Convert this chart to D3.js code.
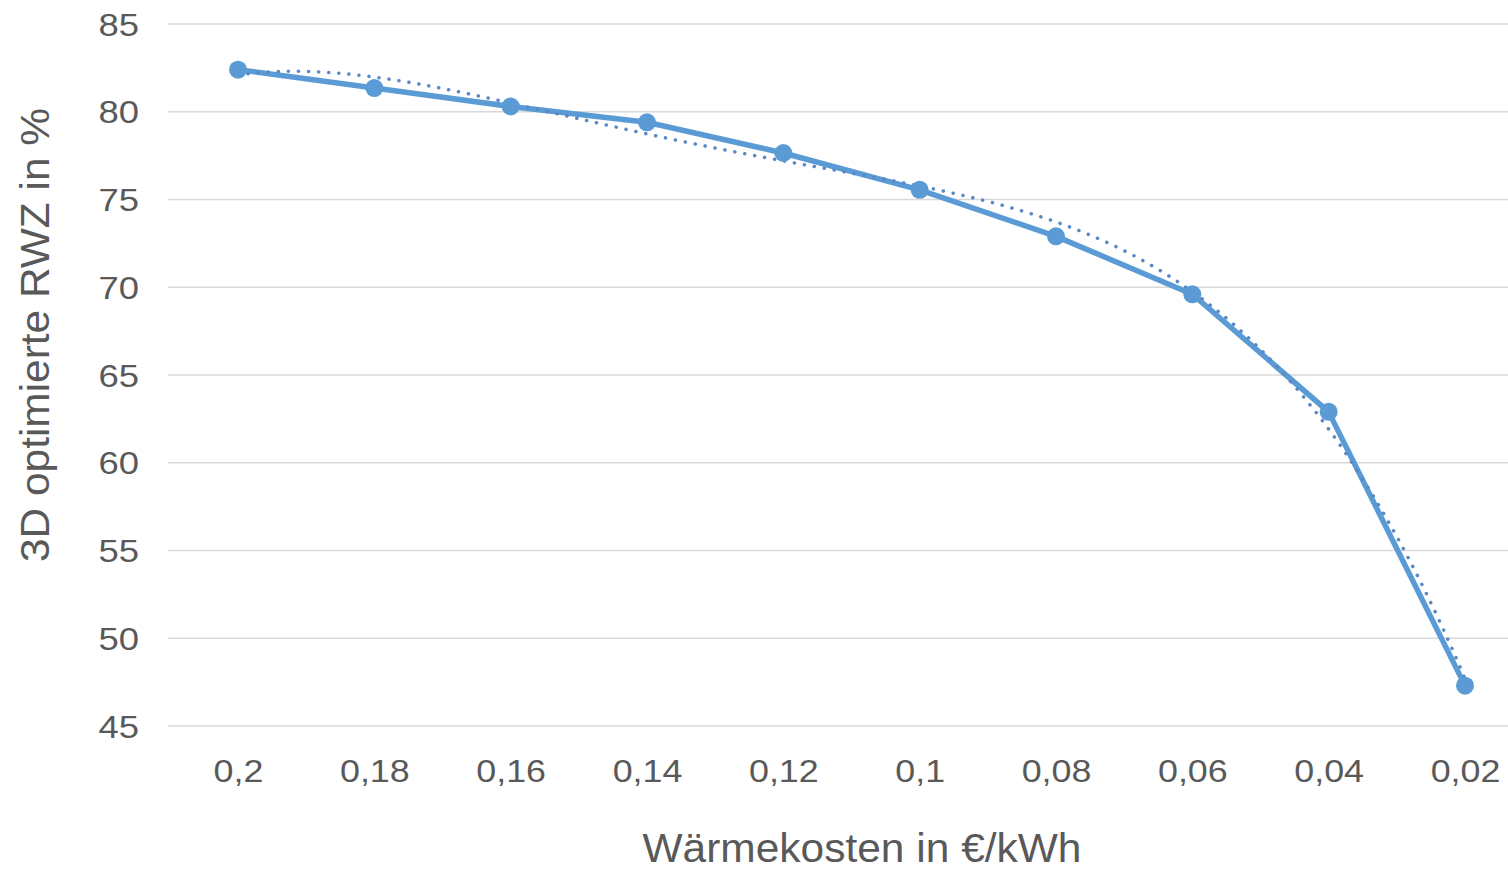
<!DOCTYPE html>
<html>
<head>
<meta charset="utf-8">
<script src="https://cdn.jsdelivr.net/npm/d3@7"></script>
<style>
  html, body { margin: 0; padding: 0; background: #fff; }
  svg { display: block; }
</style>
</head>
<body>
<svg id="chart" width="1508" height="869"></svg>
<script>
// Heat cost categories (€/kWh), shown in descending order
const categories = ["0,2", "0,18", "0,16", "0,14", "0,12", "0,1", "0,08", "0,06", "0,04", "0,02"];
// 3D-optimised RWZ in % for each heat cost
const rwzValues = [82.4, 81.35, 80.3, 79.4, 77.65, 75.55, 72.9, 69.6, 62.9, 47.3];
// Y axis ticks
const yTicks = [45, 50, 55, 60, 65, 70, 75, 80, 85];
// Order of the polynomial trend line
const trendOrder = 4;

const width = 1508, height = 869;
const svg = d3.select("#chart");

const x = d3.scalePoint()
  .domain(categories)
  .range([238, 1465]);

const y = d3.scaleLinear()
  .domain([45, 85])
  .range([726, 24]);

const font = "'Liberation Sans', Arial, sans-serif";
const gray = "#595959";

// Widen tick labels slightly, keeping their anchor
function widen(sel, factor) {
  sel.each(function() {
    const len = this.getComputedTextLength();
    d3.select(this)
      .attr("textLength", len * factor)
      .attr("lengthAdjust", "spacingAndGlyphs");
  });
}

// Horizontal gridlines
svg.append("g")
  .selectAll("line")
  .data(yTicks)
  .join("line")
  .attr("x1", 168)
  .attr("x2", width)
  .attr("y1", d => y(d))
  .attr("y2", d => y(d))
  .attr("stroke", "#d9d9d9")
  .attr("stroke-width", 1.5);

// Y axis tick labels
const yAxis = d3.axisLeft(y).tickValues(yTicks).tickSize(0).tickPadding(0).tickFormat(d3.format("d"));
svg.append("g")
  .attr("transform", "translate(139,0)")
  .call(yAxis)
  .call(g => g.select(".domain").remove())
  .selectAll("text")
  .attr("font-family", font)
  .attr("font-size", 32)
  .attr("fill", gray)
  .attr("dy", "0.35em")
  .call(widen, 1.14);

// X axis tick labels
const xAxis = d3.axisBottom(x).tickSize(0).tickPadding(0);
svg.append("g")
  .attr("transform", "translate(0,782)")
  .call(xAxis)
  .call(g => g.select(".domain").remove())
  .selectAll("text")
  .attr("font-family", font)
  .attr("font-size", 32)
  .attr("fill", gray)
  .attr("dy", 0)
  .call(widen, 1.12);

// Axis titles
svg.append("text")
  .attr("x", 862)
  .attr("y", 862)
  .attr("text-anchor", "middle")
  .attr("font-family", font)
  .attr("font-size", 40)
  .attr("fill", gray)
  .attr("textLength", 439)
  .attr("lengthAdjust", "spacingAndGlyphs")
  .text("Wärmekosten in €/kWh");

svg.append("text")
  .attr("transform", "translate(49,335) rotate(-90)")
  .attr("text-anchor", "middle")
  .attr("font-family", font)
  .attr("font-size", 40)
  .attr("fill", gray)
  .attr("textLength", 454)
  .attr("lengthAdjust", "spacingAndGlyphs")
  .text("3D optimierte RWZ in %");

// Least-squares polynomial fit over category index (1..n)
function polyFit(xs, ys, order) {
  const m = order + 1;
  const A = Array.from({length: m}, () => new Array(m + 1).fill(0));
  for (let i = 0; i < xs.length; i++) {
    for (let r = 0; r < m; r++) {
      for (let c = 0; c < m; c++) A[r][c] += Math.pow(xs[i], r + c);
      A[r][m] += ys[i] * Math.pow(xs[i], r);
    }
  }
  for (let col = 0; col < m; col++) {
    let piv = col;
    for (let r = col + 1; r < m; r++) if (Math.abs(A[r][col]) > Math.abs(A[piv][col])) piv = r;
    [A[col], A[piv]] = [A[piv], A[col]];
    for (let r = 0; r < m; r++) {
      if (r === col) continue;
      const f = A[r][col] / A[col][col];
      for (let c = col; c <= m; c++) A[r][c] -= f * A[col][c];
    }
  }
  return A.map((row, i) => row[m] / row[i]);
}

const idx = rwzValues.map((_, i) => i + 1);
const coef = polyFit(idx, rwzValues, trendOrder);
const evalPoly = t => coef.reduce((s, c, k) => s + c * Math.pow(t, k), 0);
const step = x.step();
const trendPts = d3.range(1, idx.length + 0.001, 0.05).map(t => [x(categories[0]) + (t - 1) * step, evalPoly(t)]);

const plot = svg.append("g");

// Data line
plot.append("path")
  .datum(rwzValues)
  .attr("fill", "none")
  .attr("stroke", "#5b9bd5")
  .attr("stroke-width", 5.5)
  .attr("stroke-linejoin", "round")
  .attr("d", d3.line().x((d, i) => x(categories[i])).y(d => y(d)));

// Polynomial trend line (dotted)
plot.append("path")
  .datum(trendPts)
  .attr("fill", "none")
  .attr("stroke", "#5a88c4")
  .attr("stroke-width", 3.5)
  .attr("stroke-linecap", "round")
  .attr("stroke-dasharray", "0.1,10")
  .attr("d", d3.line().x(d => d[0]).y(d => y(d[1])));

// Markers
plot.selectAll("circle")
  .data(rwzValues)
  .join("circle")
  .attr("cx", (d, i) => x(categories[i]))
  .attr("cy", d => y(d))
  .attr("r", 9)
  .attr("fill", "#5b9bd5");
</script>
</body>
</html>
